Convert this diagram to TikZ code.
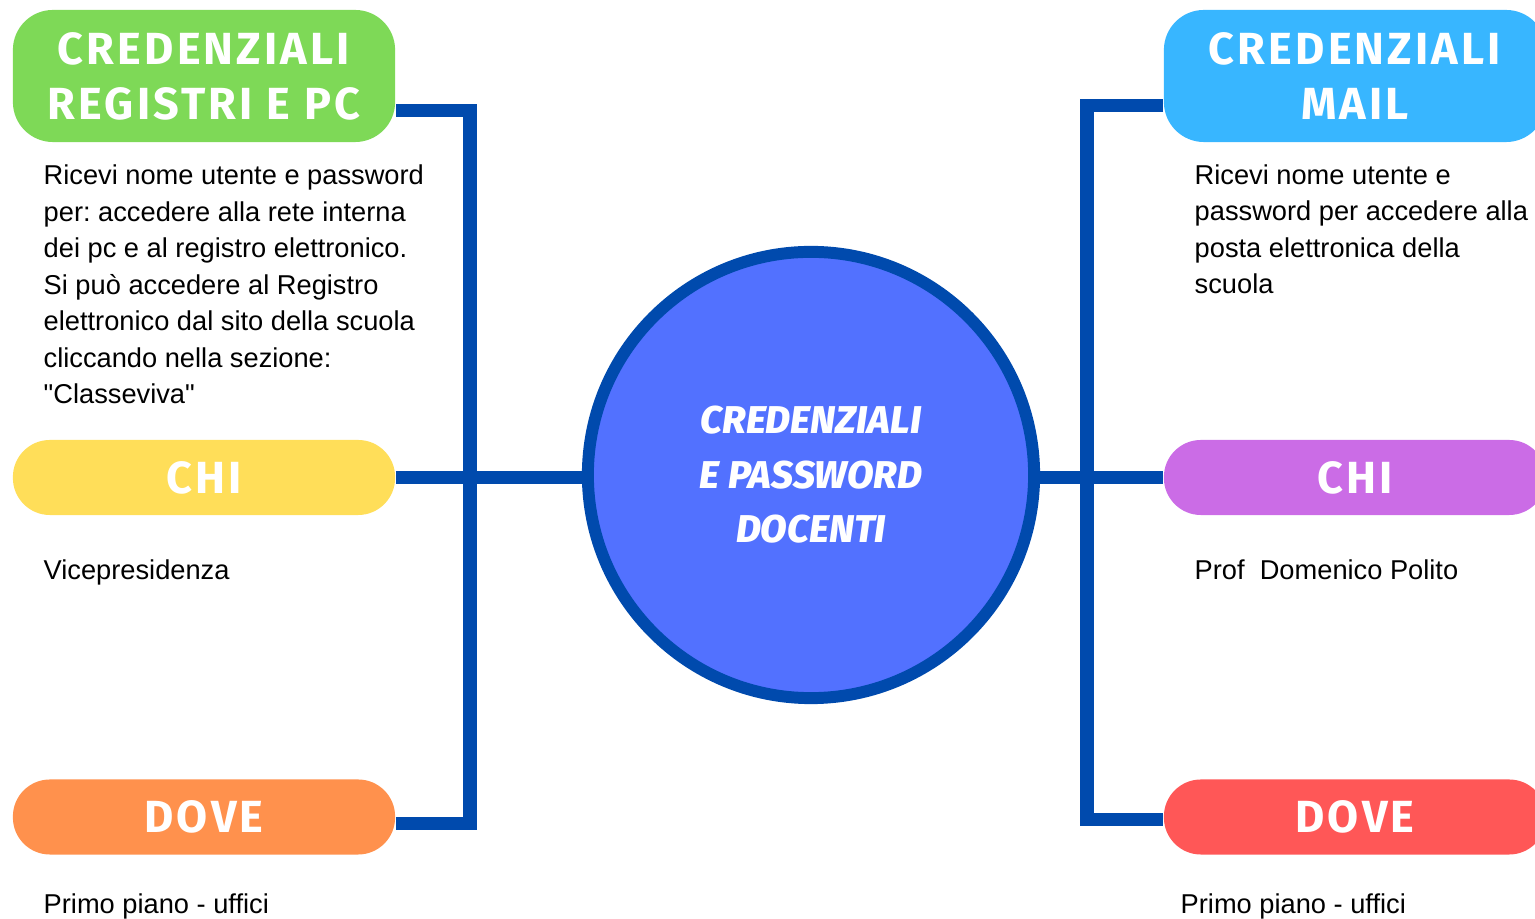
\documentclass[tikz,border=0pt]{standalone}
\usepackage{fontspec}
\setmainfont{Liberation Sans}[Ligatures=TeXOff]
\newfontfamily\headfont[LetterSpace=7]{Fira Sans}
\newfontfamily\centfont{Fira Sans ExtraBold Italic}
\usetikzlibrary{backgrounds}
\definecolor{cgreen}{HTML}{7ED957}
\definecolor{cblue}{HTML}{38B6FF}
\definecolor{cyellow}{HTML}{FFDE59}
\definecolor{cpurple}{HTML}{CB6CE6}
\definecolor{corange}{HTML}{FF914D}
\definecolor{cred}{HTML}{FF5757}
\definecolor{ccirc}{HTML}{5271FF}
\definecolor{dblue}{HTML}{004AAD}
\frenchspacing
\tikzset{
  hbox/.style={rounded corners=0.4cm, minimum width=3.82cm, minimum height=1.32cm, inner sep=0pt,
    text=white, align=center, font=\headfont\bfseries\fontsize{12.8}{15.6}\selectfont},
  pill/.style={rounded corners=0.37cm, minimum width=3.82cm, minimum height=0.75cm, inner sep=0pt,
    text=white, font=\headfont\bfseries\fontsize{12.8}{15.6}\selectfont},
  body/.style={inner sep=0pt, align=left, anchor=base west, font=\frenchspacing\fontsize{7.75}{10.4}\selectfont},
  conn/.style={line width=3.7pt, draw=dblue, line join=miter},
}
\begin{document}
\begin{tikzpicture}[x=0.01cm,y=-0.01cm]
\useasboundingbox (0,0) rectangle (1535,919);
\clip (0,0) rectangle (1535,919);
% central circle
\node[circle, fill=ccirc, draw=dblue, line width=3.4pt, minimum size=4.46cm, inner sep=0pt,
  text=white, align=center, font=\centfont\fontsize{11.0}{15.5}\selectfont]
  (circ) at (811,475) {CREDENZIALI\\E PASSWORD\\DOCENTI};
% left column
\node[hbox, fill=cgreen] (green) at (204,76) {CREDENZIALI\\REGISTRI E PC};
\node[pill, fill=cyellow] (yellow) at (204,477.5) {CHI};
\node[pill, fill=corange] (orange) at (204,817) {DOVE};
% right column
\node[hbox, fill=cblue] (blue) at (1355,76) {CREDENZIALI\\MAIL};
\node[pill, fill=cpurple] (purple) at (1355,477.5) {CHI};
\node[pill, fill=cred] (red) at (1355,817) {DOVE};
% bracket corners
\coordinate (L1) at (470,111);
\coordinate (L2) at (470,824);
\coordinate (R1) at (1087,106);
\coordinate (R2) at (1087,820);
\begin{pgfonlayer}{background}
\draw[conn] (green.east |- L1) -- (L1) -- (L2) -- (orange.east |- L2);
\draw[conn] (yellow.east) -- (yellow.east -| circ.center);
\draw[conn] (blue.west |- R1) -- (R1) -- (R2) -- (red.west |- R2);
\draw[conn] (purple.west) -- (purple.west -| circ.center);
\end{pgfonlayer}
% texts (anchor at baseline of last line)
\node[body] (t1) at (43,404) {Ricevi nome utente e password\\per: accedere alla rete interna\\dei pc e al registro elettronico.\\Si può accedere al Registro\\elettronico dal sito della scuola\\cliccando nella sezione:\\"Classeviva"};
\node[body] (t2) at (43,580) {Vicepresidenza};
\node[body] (t3) at (43,914) {Primo piano - uffici};
\node[body] (t4) at (1194,294) {Ricevi nome utente e\\password per accedere alla\\posta elettronica della\\scuola};
\node[body] (t5) at (1194,580) {Prof\ \ Domenico Polito};
\node[body] (t6) at (1180,914) {Primo piano - uffici};
\end{tikzpicture}
\end{document}
